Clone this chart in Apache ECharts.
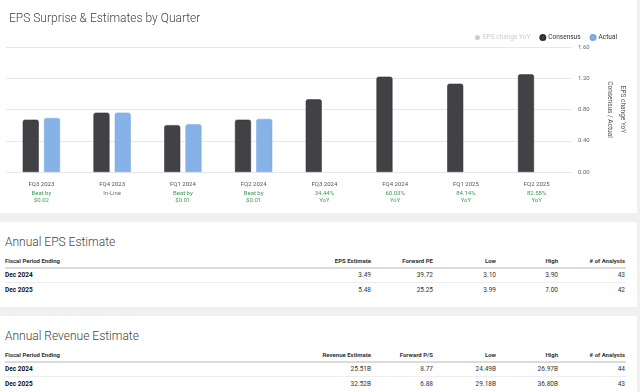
<!DOCTYPE html>
<html><head><meta charset="utf-8">
<script src="https://cdn.jsdelivr.net/npm/echarts@6/dist/echarts.min.js"></script>
<style>
html,body{margin:0;padding:0;width:640px;height:392px;overflow:hidden;background:#f1f0ee;font-family:Roboto,"Liberation Sans",Arial,sans-serif;}
.panel{position:absolute;left:0;width:637px;background:#fff;}
.t{position:absolute;white-space:nowrap;}
</style></head>
<body>
<div class="panel" id="p1" style="top:0;height:213px;"><div id="chart" style="width:637px;height:213px;"></div></div>
<div class="panel" id="p2" style="top:222px;height:85px;"></div>
<div class="panel" id="p3" style="top:316px;height:76px;"></div>
<script>
var categories = ['FQ3 2023','FQ4 2023','FQ1 2024','FQ2 2024','FQ3 2024','FQ4 2024','FQ1 2025','FQ2 2025'];
var consensus = [0.67,0.76,0.60,0.67,0.93,1.22,1.13,1.25];
var actual = [0.69,0.76,0.61,0.68,null,null,null,null];
var epsChangeYoY = [null,null,null,null,34.44,60.03,84.14,82.58];
var noteLine1 = ['Beat by','In-Line','Beat by','Beat by','34.44%','60.03%','84.14%','82.58%'];
var noteLine2 = ['$0.02','','$0.01','$0.01','YoY','YoY','YoY','YoY'];
var yTicks = [0,0.4,0.8,1.2,1.6];

var epsHeaders = ['Fiscal Period Ending','EPS Estimate','Forward PE','Low','High','# of Analysts'];
var epsPeriods = ['Dec 2024','Dec 2025'];
var epsEstimate = ['3.49','5.48'];
var epsForwardPE = ['39.72','25.25'];
var epsLow = ['3.10','3.99'];
var epsHigh = ['3.90','7.00'];
var epsAnalysts = ['43','42'];

var revHeaders = ['Fiscal Period Ending','Revenue Estimate','Forward P/S','Low','High','# of Analysts'];
var revPeriods = ['Dec 2024','Dec 2025'];
var revEstimate = ['25.51B','32.52B'];
var revForwardPS = ['8.77','6.88'];
var revLow = ['24.49B','29.18B'];
var revHigh = ['26.97B','36.80B'];
var revAnalysts = ['44','43'];

var FONT = 'Roboto, "Liberation Sans", Arial, sans-serif';
var chart = echarts.init(document.getElementById('chart'), null, {renderer:'canvas'});
chart.setOption({
  animation:false,
  backgroundColor:'#fff',
  title:{text:'EPS Surprise & Estimates by Quarter',left:4,top:8,textStyle:{fontSize:12,fontWeight:300,color:'#444',fontFamily:FONT}},
  legend:{right:15,top:29,itemWidth:5,itemHeight:5,itemGap:9,icon:'circle',
    textStyle:{fontSize:6.5,color:'#333',fontFamily:FONT,padding:[0,0,0,-2]},inactiveColor:'#ccc',
    data:['EPS change YoY','Consensus','Actual'],
    selected:{'EPS change YoY':false}},
  grid:{left:6,right:57,top:47,bottom:41},
  xAxis:{type:'category',data:categories,axisLine:{show:false},axisTick:{show:false},
    axisLabel:{margin:6,interval:0,
      formatter:function(v,i){var s='{q|'+v+'}';
        var c = noteLine1[i]==='In-Line'?'g':'s';
        s+='\n{'+c+'|'+noteLine1[i]+'}';
        if(noteLine2[i]) s+='\n{'+c+'|'+noteLine2[i]+'}';
        return s;},
      rich:{q:{fontSize:6,color:'#555',lineHeight:12,fontFamily:FONT},
            s:{fontSize:6,color:'#3e9a5c',lineHeight:7,fontFamily:FONT},
            g:{fontSize:6,color:'#777',lineHeight:7,fontFamily:FONT}}}},
  yAxis:[{type:'value',position:'right',min:0,max:1.6,interval:0.4,
    axisLabel:{margin:6,fontSize:6,color:'#666',fontFamily:FONT,formatter:function(v){return v.toFixed(2);}},
    splitLine:{lineStyle:{color:'#e8e8e8',width:1}},axisLine:{show:false},axisTick:{show:false},
    name:'EPS change YoY\nConsensus / Actual',nameLocation:'middle',nameRotate:-90,nameGap:31,
    nameTextStyle:{fontSize:6.5,color:'#555',lineHeight:13,fontFamily:FONT}},
    {type:'value',show:false,min:0,max:100}],
  series:[
    {name:'EPS change YoY',type:'line',yAxisIndex:1,data:epsChangeYoY,itemStyle:{color:'#ccc'}},
    {name:'Consensus',type:'bar',data:consensus,barWidth:16,barGap:'33%',
      itemStyle:{color:'#414146',borderRadius:[2,2,0,0],borderColor:'#2e2e33',borderWidth:0.5}},
    {name:'Actual',type:'bar',data:actual,barWidth:16,
      itemStyle:{color:'#86b2e8',borderRadius:[2,2,0,0],borderColor:'#78a6e0',borderWidth:0.5}}
  ]
});

function txt(parent,s,style){var d=document.createElement('div');d.className='t';d.textContent=s;
  for(var k in style) d.style[k]=style[k]; parent.appendChild(d);}
function line(parent,top,h,color){var d=document.createElement('div');d.style.position='absolute';
  d.style.left='5px';d.style.width='621px';d.style.top=top+'px';d.style.height=h+'px';d.style.background=color;parent.appendChild(d);}
var colRight=[371,433,496,558,625];
function table(pid,title,headers,periods,cols){
  var p=document.getElementById(pid);
  txt(p,title,{left:'5px',top:'12px',fontSize:'12px',fontWeight:'300',color:'#444',lineHeight:'16px'});
  txt(p,headers[0],{left:'5px',top:'34px',fontSize:'6px',fontWeight:'bold',color:'#333',lineHeight:'10px'});
  for(var c=1;c<headers.length;c++){
    txt(p,headers[c],{right:(637-colRight[c-1])+'px',top:'34px',fontSize:'6px',fontWeight:'bold',color:'#333',lineHeight:'10px'});
  }
  line(p,45,1.5,'#dcdcdc');
  for(var r=0;r<periods.length;r++){
    var y=48+r*15;
    txt(p,periods[r],{left:'5px',top:y+'px',fontSize:'6.5px',fontWeight:'bold',color:'#111',lineHeight:'10px'});
    for(var c2=0;c2<cols.length;c2++){
      txt(p,cols[c2][r],{right:(637-colRight[c2])+'px',top:y+'px',fontSize:'6.5px',color:'#333',lineHeight:'10px'});
    }
    if(r===0) line(p,60,1,'#eeeeee');
  }
}
table('p2','Annual EPS Estimate',epsHeaders,epsPeriods,[epsEstimate,epsForwardPE,epsLow,epsHigh,epsAnalysts]);
table('p3','Annual Revenue Estimate',revHeaders,revPeriods,[revEstimate,revForwardPS,revLow,revHigh,revAnalysts]);
</script>
</body></html>
